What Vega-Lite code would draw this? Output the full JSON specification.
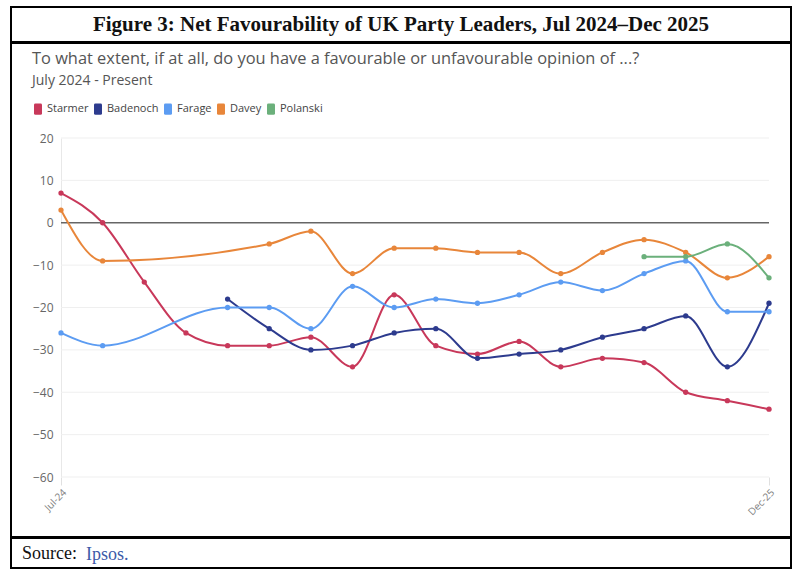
{
  "$schema": "https://vega.github.io/schema/vega-lite/v6.json",
  "padding": {"left": 10, "top": 6, "right": 10, "bottom": 5},
  "background": "white",
  "spacing": -2,
  "title": {"text": "Ipsos.", "orient": "bottom", "anchor": "start", "offset": -23, "dx": 76, "font": "Liberation Serif", "fontSize": 18, "fontWeight": "normal", "color": "#3d5aa8"},
  "datasets": {
    "grid": [{"value": 20}, {"value": 10}, {"value": 0}, {"value": -10}, {"value": -20}, {"value": -30}, {"value": -40}, {"value": -50}, {"value": -60}],
    "fav": [
      {"leader": "Starmer", "month": "Jul-24", "value": 7},
      {"leader": "Starmer", "month": "Aug-24", "value": 0},
      {"leader": "Starmer", "month": "Sep-24", "value": -14},
      {"leader": "Starmer", "month": "Oct-24", "value": -26},
      {"leader": "Starmer", "month": "Nov-24", "value": -29},
      {"leader": "Starmer", "month": "Dec-24", "value": -29},
      {"leader": "Starmer", "month": "Jan-25", "value": -27},
      {"leader": "Starmer", "month": "Feb-25", "value": -34},
      {"leader": "Starmer", "month": "Mar-25", "value": -17},
      {"leader": "Starmer", "month": "Apr-25", "value": -29},
      {"leader": "Starmer", "month": "May-25", "value": -31},
      {"leader": "Starmer", "month": "Jun-25", "value": -28},
      {"leader": "Starmer", "month": "Jul-25", "value": -34},
      {"leader": "Starmer", "month": "Aug-25", "value": -32},
      {"leader": "Starmer", "month": "Sep-25", "value": -33},
      {"leader": "Starmer", "month": "Oct-25", "value": -40},
      {"leader": "Starmer", "month": "Nov-25", "value": -42},
      {"leader": "Starmer", "month": "Dec-25", "value": -44},
      {"leader": "Badenoch", "month": "Nov-24", "value": -18},
      {"leader": "Badenoch", "month": "Dec-24", "value": -25},
      {"leader": "Badenoch", "month": "Jan-25", "value": -30},
      {"leader": "Badenoch", "month": "Feb-25", "value": -29},
      {"leader": "Badenoch", "month": "Mar-25", "value": -26},
      {"leader": "Badenoch", "month": "Apr-25", "value": -25},
      {"leader": "Badenoch", "month": "May-25", "value": -32},
      {"leader": "Badenoch", "month": "Jun-25", "value": -31},
      {"leader": "Badenoch", "month": "Jul-25", "value": -30},
      {"leader": "Badenoch", "month": "Aug-25", "value": -27},
      {"leader": "Badenoch", "month": "Sep-25", "value": -25},
      {"leader": "Badenoch", "month": "Oct-25", "value": -22},
      {"leader": "Badenoch", "month": "Nov-25", "value": -34},
      {"leader": "Badenoch", "month": "Dec-25", "value": -19},
      {"leader": "Farage", "month": "Jul-24", "value": -26},
      {"leader": "Farage", "month": "Aug-24", "value": -29},
      {"leader": "Farage", "month": "Nov-24", "value": -20},
      {"leader": "Farage", "month": "Dec-24", "value": -20},
      {"leader": "Farage", "month": "Jan-25", "value": -25},
      {"leader": "Farage", "month": "Feb-25", "value": -15},
      {"leader": "Farage", "month": "Mar-25", "value": -20},
      {"leader": "Farage", "month": "Apr-25", "value": -18},
      {"leader": "Farage", "month": "May-25", "value": -19},
      {"leader": "Farage", "month": "Jun-25", "value": -17},
      {"leader": "Farage", "month": "Jul-25", "value": -14},
      {"leader": "Farage", "month": "Aug-25", "value": -16},
      {"leader": "Farage", "month": "Sep-25", "value": -12},
      {"leader": "Farage", "month": "Oct-25", "value": -9},
      {"leader": "Farage", "month": "Nov-25", "value": -21},
      {"leader": "Farage", "month": "Dec-25", "value": -21},
      {"leader": "Davey", "month": "Jul-24", "value": 3},
      {"leader": "Davey", "month": "Aug-24", "value": -9},
      {"leader": "Davey", "month": "Dec-24", "value": -5},
      {"leader": "Davey", "month": "Jan-25", "value": -2},
      {"leader": "Davey", "month": "Feb-25", "value": -12},
      {"leader": "Davey", "month": "Mar-25", "value": -6},
      {"leader": "Davey", "month": "Apr-25", "value": -6},
      {"leader": "Davey", "month": "May-25", "value": -7},
      {"leader": "Davey", "month": "Jun-25", "value": -7},
      {"leader": "Davey", "month": "Jul-25", "value": -12},
      {"leader": "Davey", "month": "Aug-25", "value": -7},
      {"leader": "Davey", "month": "Sep-25", "value": -4},
      {"leader": "Davey", "month": "Oct-25", "value": -7},
      {"leader": "Davey", "month": "Nov-25", "value": -13},
      {"leader": "Davey", "month": "Dec-25", "value": -8},
      {"leader": "Polanski", "month": "Sep-25", "value": -8},
      {"leader": "Polanski", "month": "Oct-25", "value": -8},
      {"leader": "Polanski", "month": "Nov-25", "value": -5},
      {"leader": "Polanski", "month": "Dec-25", "value": -13}
    ]
  },
  "vconcat": [
    {
      "width": 780,
      "height": 35,
      "view": {"stroke": "#000000", "strokeWidth": 2},
      "data": {"values": [{"t": "Figure 3: Net Favourability of UK Party Leaders, Jul 2024–Dec 2025"}]},
      "mark": {"type": "text", "font": "Liberation Serif", "fontSize": 21, "fontWeight": "bold", "color": "#111111", "baseline": "middle", "align": "center"},
      "encoding": {"text": {"field": "t", "type": "nominal"}}
    },
    {
      "width": 780,
      "height": 494,
      "title": {
        "text": "To what extent, if at all, do you have a favourable or unfavourable opinion of ...?",
        "subtitle": "July 2024 - Present",
        "anchor": "start",
        "frame": "group",
        "offset": -45,
        "dx": 21,
        "font": "Open Sans",
        "fontSize": 16.4,
        "fontWeight": "normal",
        "color": "#555555",
        "subtitleFont": "Open Sans",
        "subtitleFontSize": 14,
        "subtitleColor": "#555555",
        "subtitlePadding": 7
      },
      "encoding": {
        "x": {
          "field": "month",
          "type": "nominal",
          "scale": {
            "type": "point",
            "domain": ["Jul-24", "Aug-24", "Sep-24", "Oct-24", "Nov-24", "Dec-24", "Jan-25", "Feb-25", "Mar-25", "Apr-25", "May-25", "Jun-25", "Jul-25", "Aug-25", "Sep-25", "Oct-25", "Nov-25", "Dec-25"],
            "range": [50, 758],
            "padding": 0
          },
          "axis": {
            "values": ["Jul-24", "Dec-25"],
            "offset": -60,
            "domain": false,
            "grid": false,
            "ticks": true,
            "tickColor": "#e0e0e0",
            "tickSize": 8,
            "labelAngle": -45,
            "labelFont": "Open Sans",
            "labelFontSize": 10,
            "labelColor": "#808080",
            "labelPadding": 2,
            "title": null
          }
        },
        "y": {
          "field": "value",
          "type": "quantitative",
          "scale": {"domain": [-60, 20], "range": [434, 95], "nice": false, "zero": false},
          "axis": {
            "values": [20, 10, 0, -10, -20, -30, -40, -50, -60],
            "offset": -50,
            "domain": true,
            "domainColor": "#e8e8e8",
            "ticks": false,
            "grid": false,
            "labelPadding": 8,
            "labelFont": "Open Sans",
            "labelFontSize": 12,
            "labelColor": "#666666",
            "title": null
          }
        }
      },
      "layer": [
        {
          "data": {"name": "grid"},
          "mark": {"type": "rule"},
          "encoding": {
            "x": {"datum": "Jul-24"},
            "x2": {"datum": "Dec-25"},
            "color": {"condition": {"test": "datum.value === 0", "value": "#666666"}, "value": "#efefef"},
            "strokeWidth": {"condition": {"test": "datum.value === 0", "value": 1.5}, "value": 1}
          }
        },
        {
          "data": {"name": "fav"},
          "mark": {"type": "line", "interpolate": "monotone", "strokeWidth": 2},
          "encoding": {
            "order": {"value": null},
            "color": {
              "field": "leader",
              "type": "nominal",
              "scale": {"domain": ["Starmer", "Badenoch", "Farage", "Davey", "Polanski"], "range": ["#c8385a", "#2d3b8e", "#5c9cf2", "#e8863a", "#6bb07b"]},
              "legend": {
                "orient": "none",
                "legendX": 21,
                "legendY": 96,
                "direction": "horizontal",
                "title": null,
                "symbolType": "M-0.45,-1H0.45Q0.7,-1 0.7,-0.75V0.75Q0.7,1 0.45,1H-0.45Q-0.7,1 -0.7,0.75V-0.75Q-0.7,-1 -0.45,-1Z",
                "symbolSize": 130,
                "symbolStrokeWidth": 0,
                "labelFont": "Open Sans",
                "labelFontSize": 11,
                "labelColor": "#444444",
                "labelOffset": 3,
                "columnPadding": 3,
                "encode": {"symbols": {"update": {"fill": {"scale": "color", "field": "value"}, "fillOpacity": {"value": 1}, "strokeWidth": {"value": 0}}}}
              }
            }
          }
        },
        {
          "data": {"name": "fav"},
          "mark": {"type": "point", "filled": true, "size": 28, "opacity": 1},
          "encoding": {
            "color": {
              "field": "leader",
              "type": "nominal",
              "scale": {"domain": ["Starmer", "Badenoch", "Farage", "Davey", "Polanski"], "range": ["#c8385a", "#2d3b8e", "#5c9cf2", "#e8863a", "#6bb07b"]},
              "legend": {
                "orient": "none",
                "legendX": 21,
                "legendY": 96,
                "direction": "horizontal",
                "title": null,
                "symbolType": "M-0.45,-1H0.45Q0.7,-1 0.7,-0.75V0.75Q0.7,1 0.45,1H-0.45Q-0.7,1 -0.7,0.75V-0.75Q-0.7,-1 -0.45,-1Z",
                "symbolSize": 130,
                "symbolStrokeWidth": 0,
                "labelFont": "Open Sans",
                "labelFontSize": 11,
                "labelColor": "#444444",
                "labelOffset": 3,
                "columnPadding": 3,
                "encode": {"symbols": {"update": {"fill": {"scale": "color", "field": "value"}, "fillOpacity": {"value": 1}, "strokeWidth": {"value": 0}}}}
              }
            }
          }
        }
      ]
    },
    {
      "width": 780,
      "height": 30,
      "view": {"stroke": "#000000", "strokeWidth": 2},
      "title": {"text": "Source:", "orient": "bottom", "anchor": "start", "offset": -23, "dx": 11, "font": "Liberation Serif", "fontSize": 18, "fontWeight": "normal", "color": "#111111"},
      "data": {"values": [{"s": ""}]},
      "mark": {"type": "text"},
      "encoding": {"text": {"field": "s", "type": "nominal"}}
    }
  ],
  "config": {
    "view": {"stroke": "#000000", "strokeWidth": 2},
    "font": "Open Sans"
  }
}
